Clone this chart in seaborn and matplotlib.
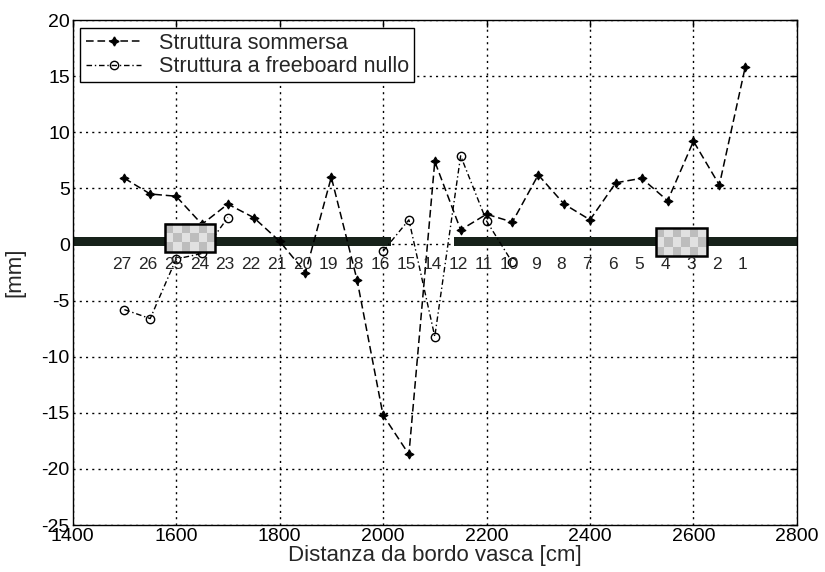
import numpy as np
import pandas as pd
import matplotlib
matplotlib.use("Agg")
import matplotlib.pyplot as plt
from matplotlib.patches import Rectangle
from matplotlib.lines import Line2D
import seaborn as sns

# ---- data ----
x_sommersa = [1500, 1550, 1600, 1650, 1700, 1750, 1800, 1850, 1900, 1950, 2000, 2050,
              2100, 2150, 2200, 2250, 2300, 2350, 2400, 2450, 2500, 2550, 2600, 2650, 2700]
y_sommersa = [5.9, 4.5, 4.3, 1.8, 3.6, 2.4, 0.3, -2.5, 6.0, -3.2, -15.2, -18.7,
              7.4, 1.3, 2.7, 2.0, 6.2, 3.6, 2.2, 5.5, 5.9, 3.9, 9.2, 5.3, 15.8]

x_freeboard = [1500, 1550, 1600, 1650, 1700, 2000, 2050, 2100, 2150, 2200, 2250]
y_freeboard = [-5.8, -6.6, -1.3, -0.8, 2.4, -0.6, 2.2, -8.2, 7.9, 2.1, -1.6]
seg_freeboard = [0, 0, 0, 0, 0, 1, 1, 1, 1, 1, 1]

section_x = [1500, 1550, 1600, 1650, 1700, 1750, 1800, 1850, 1900, 1950, 2000, 2050,
             2100, 2150, 2200, 2250, 2300, 2350, 2400, 2450, 2500, 2550, 2600, 2650, 2700]
section_labels = ["27", "26", "25", "24", "23", "22", "21", "20", "19", "18", "16", "15",
                  "14", "12", "11", "10", "9", "8", "7", "6", "5", "4", "3", "2", "1"]

series_names = ["Struttura sommersa", "Struttura a freeboard nullo"]
x_label = "Distanza da bordo vasca [cm]"
y_label = "[mm]"
x_ticks = [1400, 1600, 1800, 2000, 2200, 2400, 2600, 2800]
y_ticks = [-25, -20, -15, -10, -5, 0, 5, 10, 15, 20]

# ---- style ----
sns.set_style("white")
plt.rcParams["font.family"] = ["Liberation Sans", "DejaVu Sans"]
plt.rcParams["axes.unicode_minus"] = False

fig = plt.figure(figsize=(8.25, 5.72), dpi=100)
ax = fig.add_axes([0.088, 0.082, 0.878, 0.883])

df_s = pd.DataFrame({"x": x_sommersa, "y": y_sommersa})
df_f = pd.DataFrame({"x": x_freeboard, "y": y_freeboard, "seg": seg_freeboard})

star4 = (4, 1, 0)
sns.lineplot(data=df_s, x="x", y="y", ax=ax, color="black", linestyle=(0, (5, 2.5)),
             linewidth=1.1, marker=star4, markersize=6.5, markeredgewidth=0.8,
             markerfacecolor="black", markeredgecolor="black", zorder=2.5)
sns.lineplot(data=df_f, x="x", y="y", units="seg", estimator=None, ax=ax, color="black",
             linestyle=(0, (4, 2, 1, 2)), linewidth=1.0, marker="o", markersize=6,
             markerfacecolor="none", markeredgecolor="black", markeredgewidth=1.0, zorder=2.5)

# dark structure bar
bar_col = "#17221a"
ax.fill_between([1400, 2015], -0.15, 0.7, color=bar_col, zorder=1.5, linewidth=0)
ax.fill_between([2137, 2800], -0.15, 0.7, color=bar_col, zorder=1.5, linewidth=0)

# checkered boxes
def checker_box(x0, x1, y0, y1):
    arr = np.indices((3, 6)).sum(axis=0) % 2
    arr = 0.74 + 0.14 * arr
    ax.imshow(arr, cmap="gray", vmin=0, vmax=1, extent=(x0, x1, y0, y1),
              interpolation="nearest", aspect="auto", zorder=3)
    ax.add_patch(Rectangle((x0, y0), x1 - x0, y1 - y0, fill=False,
                           edgecolor="black", linewidth=1.8, zorder=3.2))

checker_box(1578, 1675, -0.7, 1.8)
checker_box(2528, 2626, -1.0, 1.45)

# section numbers
for xs, lab in zip(section_x, section_labels):
    ax.text(xs - 5, -1.75, lab, ha="center", va="center", fontsize=12.5, zorder=4)

ax.set_xlim(1400, 2800)
ax.set_ylim(-25, 20)
ax.set_xticks(x_ticks)
ax.set_yticks(y_ticks)
ax.tick_params(direction="in", length=5, top=True, right=True, labelsize=14,
               colors="black", width=1, pad=2)
ax.grid(True, color="black", linestyle=(0, (1.5, 3)), linewidth=1.0)
ax.set_axisbelow(True)
for sp in ax.spines.values():
    sp.set_color("black")
    sp.set_linewidth(1.0)
ax.set_xlabel(x_label, fontsize=16, labelpad=0)
ax.set_ylabel(y_label, fontsize=16, labelpad=12)

handles = [
    Line2D([], [], color="black", linestyle=(0, (5, 2.5)), linewidth=1.1, marker=star4,
           markersize=6.5, markerfacecolor="black"),
    Line2D([], [], color="black", linestyle=(0, (4, 2, 1, 2)), linewidth=1.0, marker="o",
           markersize=6, markerfacecolor="none"),
]
leg = ax.legend(handles, series_names, loc="upper left", fontsize=15.5, frameon=True,
                fancybox=False, edgecolor="black", framealpha=1, borderaxespad=0.35,
                handlelength=2.6, handletextpad=0.8, borderpad=0.25, labelspacing=0.1)
leg.get_frame().set_linewidth(1.0)

fig.savefig("out.png", dpi=100)
